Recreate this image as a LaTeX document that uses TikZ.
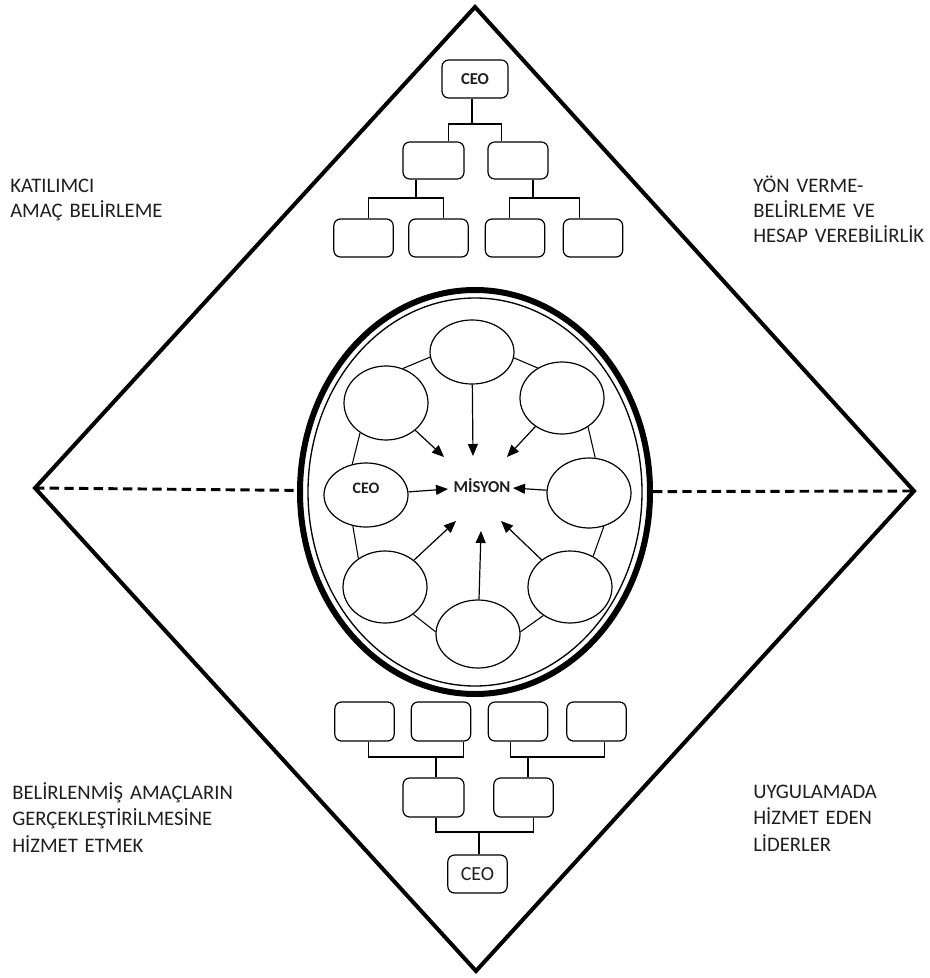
\documentclass[tikz,border=0pt]{standalone}
\usepackage{fontspec}
\setmainfont{Carlito}
\usetikzlibrary{shapes.geometric,calc,arrows.meta}
\begin{document}
\begin{tikzpicture}[x=0.75pt,y=-0.75pt,
  frame/.style={line width=3pt,line join=miter},
  divider/.style={line width=2.2pt,dash pattern=on 7pt off 4pt},
  blob/.style={ellipse,draw,line width=0.9pt,inner sep=0pt,minimum width=63pt,minimum height=#1},
  box/.style={rectangle,rounded corners=5pt,draw,line width=0.9pt,minimum width=44.5pt,minimum height=28.5pt,inner sep=0pt},
  link/.style={line width=0.8pt},
  arr/.style={line width=0.9pt,-{Triangle[length=9pt,width=7.5pt]}},
  lbl/.style={anchor=base west,align=left,text width=220pt,inner sep=0pt,text=black!88},
]
\useasboundingbox (0,0) rectangle (930,978);

% outer diamond
\coordinate (dN) at (475,7);
\coordinate (dE) at (914,491);
\coordinate (dS) at (476,971);
\coordinate (dW) at (35,488);
\draw[frame] (dN) -- (dE) -- (dS) -- (dW) -- cycle;

% central ring with double border
\node[ellipse,draw,line width=4.5pt,minimum width=262.5pt,minimum height=303pt,inner sep=0pt] (ring) at (475,492) {};
\node[ellipse,draw,line width=1pt,minimum width=250.5pt,minimum height=291pt,inner sep=0pt] (ringIn) at (475,492) {};

% dashed dividers
\draw[divider] (dW) -- (ring);
\draw[divider] (ring) -- (dE);

% ring of ellipses
\node[blob=48pt] (pTop) at (472,352) {};
\node[blob=55.5pt] (pUL) at (386,403) {};
\node[blob=54pt] (pUR) at (562,398) {};
\node[blob=48pt,label={[yshift=5pt,font=\bfseries\fontsize{12}{14}\selectfont,text=black!88]center:CEO}] (pCEO) at (366,495) {};
\node[blob=52.5pt] (pR) at (589,493) {};
\node[blob=54pt] (pLL) at (385,587) {};
\node[blob=54pt] (pLR) at (570,587) {};
\node[blob=51pt] (pBot) at (478,634) {};

\draw[link] (pTop.187) -- (pUL.64);
\draw[link] (pTop.352) -- (pUR.129);
\draw[link] (pUL.229) -- (pCEO.114);
\draw[link] (pCEO.247) -- (pLL.133);
\draw[link] (pLL.316) -- (pBot.177);
\draw[link] (pBot.3) -- (pLR.227);
\draw[link] (pLR.53) -- (pR.294);
\draw[link] (pR.80) -- (pUR.312);

% mission in the middle
\node[font=\bfseries\fontsize{12.5}{14}\selectfont,text=black!88,inner sep=0pt] (mis) at (482,486) {MİSYON};
\coordinate (aT) at (473,456);
\coordinate (aUL) at (444,457);
\coordinate (aUR) at (507,457);
\coordinate (aW) at (448,489);
\coordinate (aE) at (513,488);
\coordinate (aLL) at (456,521);
\coordinate (aB) at (481,531);
\coordinate (aLR) at (501,521);
\draw[arr] (pTop) -- (aT);
\draw[arr] (pUL) -- (aUL);
\draw[arr] (pUR) -- (aUR);
\draw[arr] (pCEO) -- (aW);
\draw[arr] (pR) -- (aE);
\draw[arr] (pLL) -- (aLL);
\draw[arr] (pBot) -- (aB);
\draw[arr] (pLR) -- (aLR);

% top hierarchy
\node[box,minimum width=49.5pt,font=\bfseries\fontsize{12.5}{14}\selectfont,text=black!88] (ceoT) at (475,79) {CEO};
\node[box,minimum width=45.75pt,minimum height=27.75pt] (mL) at (433.5,160.5) {};
\node[box,minimum width=45pt,minimum height=27.75pt] (mR) at (518,160.5) {};
\node[box] (b1) at (363.5,238) {};
\node[box] (b2) at (438.5,238) {};
\node[box] (b3) at (515,238) {};
\node[box] (b4) at (593,238) {};

\coordinate (jT) at (472,124);
\coordinate (jL) at (416,198);
\coordinate (jR) at (533,198);
\draw[link] (ceoT.south -| jT) -- (jT);
\draw[link] ($(mL.north west)!.74!(mL.north east)$) |- (jT) -| ($(mR.north west)!.23!(mR.north east)$);
\draw[link] (mL.south -| jL) -- (jL);
\draw[link] ($(b1.north west)!.58!(b1.north east)$) |- (jL) -| ($(b2.north west)!.59!(b2.north east)$);
\draw[link] (mR.south -| jR) -- (jR);
\draw[link] ($(b3.north west)!.41!(b3.north east)$) |- (jR) -| ($(b4.north west)!.28!(b4.north east)$);

% bottom hierarchy
\node[box,minimum height=29.25pt] (c1) at (364.5,721.5) {};
\node[box,minimum height=29.25pt] (c2) at (441,721.5) {};
\node[box,minimum height=29.25pt] (c3) at (518,721.5) {};
\node[box,minimum height=29.25pt] (c4) at (596.5,721.5) {};
\node[box,minimum width=45.75pt,minimum height=29.25pt] (d1) at (433.5,797.5) {};
\node[box,minimum height=29.25pt] (d2) at (523.5,797.5) {};
\node[box,font=\fontsize{15}{17}\selectfont,text=black!88] (ceoB) at (477.5,874) {CEO};

\coordinate (jB1) at (436,757);
\coordinate (jB2) at (528,757);
\coordinate (jB3) at (479,832);
\draw[link] ($(c1.south west)!.56!(c1.south east)$) |- (jB1) -| ($(c2.south west)!.87!(c2.south east)$);
\draw[link] (jB1) -- (d1.north -| jB1);
\draw[link] ($(c3.south west)!.38!(c3.south east)$) |- (jB2) -| ($(c4.south west)!.63!(c4.south east)$);
\draw[link] (jB2) -- (d2.north -| jB2);
\draw[link] ($(d1.south west)!.54!(d1.south east)$) |- (jB3) -| ($(d2.south west)!.66!(d2.south east)$);
\draw[link] (jB3) -- (ceoB.north -| jB3);

% corner captions
\node[lbl,font=\fontsize{15.5}{19.2}\selectfont] (tW) at (10,192) {KATILIMCI\\AMAÇ BELİRLEME};
\node[lbl,font=\fontsize{15.5}{19}\selectfont] (tE) at (753,192) {YÖN VERME-\\BELİRLEME VE\\HESAP VEREBİLİRLİK};
\node[lbl,font=\fontsize{15.5}{20.2}\selectfont] (bW) at (12,799) {BELİRLENMİŞ AMAÇLARIN\\GERÇEKLEŞTİRİLMESİNE\\HİZMET ETMEK};
\node[lbl,font=\fontsize{15.5}{20.2}\selectfont] (bE) at (753,798) {UYGULAMADA\\HİZMET EDEN\\LİDERLER};
\end{tikzpicture}
\end{document}
